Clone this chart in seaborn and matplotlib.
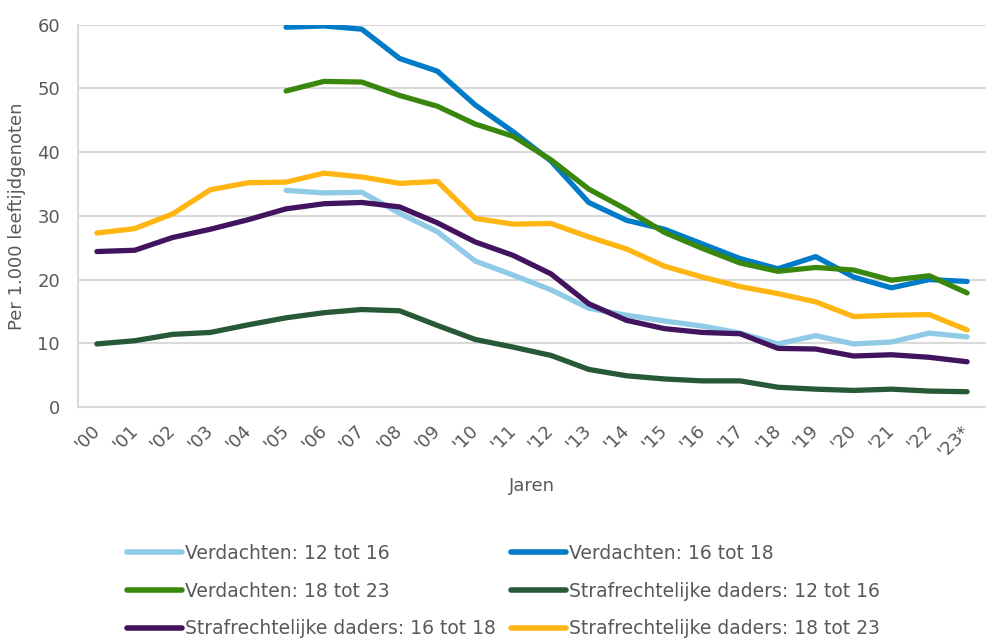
import matplotlib.pyplot as plt
import matplotlib.transforms as mtransforms
import numpy as np
import pandas as pd
import seaborn as sns

# Data (per 1.000 leeftijdgenoten)
years = list(range(2000, 2024))
tick_labels = ["'00", "'01", "'02", "'03", "'04", "'05", "'06", "'07", "'08", "'09",
               "'10", "'11", "'12", "'13", "'14", "'15", "'16", "'17", "'18", "'19",
               "'20", "'21", "'22", "'23*"]

nan = np.nan
verd_12_16 = [nan, nan, nan, nan, nan, 34.0, 33.6, 33.7, 30.4, 27.5, 22.9, 20.7,
              18.4, 15.5, 14.4, 13.5, 12.7, 11.6, 9.9, 11.2, 9.9, 10.2, 11.6, 11.0]
verd_16_18 = [nan, nan, nan, nan, nan, 59.6, 59.8, 59.3, 54.7, 52.7, 47.4, 43.2,
              38.6, 32.1, 29.3, 27.9, 25.6, 23.3, 21.7, 23.6, 20.4, 18.7, 20.0, 19.7]
verd_18_23 = [nan, nan, nan, nan, nan, 49.6, 51.1, 51.0, 48.9, 47.2, 44.4, 42.5,
              38.8, 34.2, 31.0, 27.4, 24.9, 22.6, 21.3, 21.9, 21.5, 19.9, 20.6, 17.9]
sd_12_16 = [9.9, 10.4, 11.4, 11.7, 12.9, 14.0, 14.8, 15.3, 15.1, 12.8, 10.6, 9.4,
            8.1, 5.9, 4.9, 4.4, 4.1, 4.1, 3.1, 2.8, 2.6, 2.8, 2.5, 2.4]
sd_16_18 = [24.4, 24.6, 26.6, 27.9, 29.4, 31.1, 31.9, 32.1, 31.4, 28.9, 25.9, 23.8,
            20.9, 16.2, 13.6, 12.3, 11.7, 11.5, 9.2, 9.1, 8.0, 8.2, 7.8, 7.1]
sd_18_23 = [27.3, 28.0, 30.3, 34.1, 35.2, 35.3, 36.7, 36.1, 35.1, 35.4, 29.6, 28.7,
            28.8, 26.7, 24.8, 22.1, 20.4, 18.9, 17.8, 16.5, 14.2, 14.4, 14.5, 12.1]

series = {
    "Verdachten: 12 tot 16": verd_12_16,
    "Verdachten: 16 tot 18": verd_16_18,
    "Verdachten: 18 tot 23": verd_18_23,
    "Strafrechtelijke daders: 12 tot 16": sd_12_16,
    "Strafrechtelijke daders: 16 tot 18": sd_16_18,
    "Strafrechtelijke daders: 18 tot 23": sd_18_23,
}
colors = ["#8FCAE7", "#007BC7", "#39870C", "#275937", "#42145F", "#FFB612"]

df = pd.DataFrame({"Jaar": years, **series})
long = df.melt(id_vars="Jaar", var_name="Reeks", value_name="Waarde").dropna()

sns.set_style("white")
plt.rcParams['font.family'] = ['DejaVu Sans']
txt = "#595959"
grid = "#D9D9D9"

fig = plt.figure(figsize=(9.87, 6.38), dpi=100)
ax = fig.add_axes([78 / 987, 1 - 407 / 638, 908 / 987, (407 - 24.7) / 638])

for (name, vals), col in zip(series.items(), colors):
    sub = long[long["Reeks"] == name]
    sns.lineplot(data=sub, x="Jaar", y="Waarde", color=col, linewidth=3.8,
                 label=name, ax=ax, solid_capstyle="round", legend=False)

ax.set_xlim(1999.5, 2023.5)
ax.set_ylim(0, 60)
ax.set_yticks(range(0, 61, 10))
ax.set_xticks(years)
ax.set_xticklabels(tick_labels, rotation=45, ha="right", va="center",
                   rotation_mode="anchor")
offset = mtransforms.ScaledTranslation(1 / 100, 0, fig.dpi_scale_trans)
for lab in ax.get_xticklabels():
    lab.set_transform(lab.get_transform() + offset)

ax.tick_params(axis="both", length=0, labelsize=13, labelcolor=txt)
ax.tick_params(axis="y", pad=13)
ax.tick_params(axis="x", pad=15)
ax.yaxis.grid(True, color=grid, linewidth=1.5)
ax.set_axisbelow(True)
for side in ["top", "right"]:
    ax.spines[side].set_visible(False)
for side in ["left", "bottom"]:
    ax.spines[side].set_color(grid)
    ax.spines[side].set_linewidth(1.5)

ax.set_xlabel("Jaren", fontsize=13, color=txt, labelpad=12)
ax.set_ylabel("Per 1.000 leeftijdgenoten", fontsize=13, color=txt, labelpad=8)

handles, labels = ax.get_legend_handles_labels()
order = [0, 2, 4, 1, 3, 5]
leg = fig.legend([handles[i] for i in order], [labels[i] for i in order],
                 loc="upper left", bbox_to_anchor=(127 / 987, 1 - 544 / 638),
                 ncol=2, frameon=False, fontsize=13.5, handlelength=2.95,
                 handletextpad=0.15, columnspacing=0.8, labelspacing=1.0,
                 borderpad=0, borderaxespad=0)
for t in leg.get_texts():
    t.set_color(txt)
for h in leg.legend_handles:
    h.set_linewidth(4)

fig.savefig("out.png", dpi=100)
